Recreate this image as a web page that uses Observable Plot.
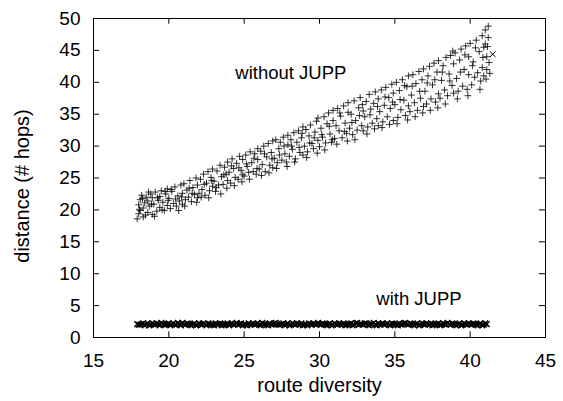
<!DOCTYPE html>
<html>
<head>
<meta charset="utf-8">
<script src="https://cdn.jsdelivr.net/npm/d3@7"></script>
<script src="https://cdn.jsdelivr.net/npm/@observablehq/plot@0.6"></script>
<style>
  html, body { margin: 0; padding: 0; background: #fff; }
</style>
</head>
<body>
<div id="chart"></div>
<script>
// without JUPP (route diversity, distance)
const withoutJUPP = [
[17.9,18.6],[18.0,19.4],[18.0,20.8],[18.1,21.6],[18.1,19.9],[18.2,22.3],[18.3,20.3],[18.3,18.9],[18.4,21.1],[18.5,22.0],[18.6,19.6],[18.6,21.4],[18.7,20.6],[18.8,22.5],[18.9,19.3],[18.9,21.9],
[19.0,20.9],[19.1,22.8],[19.2,19.8],[19.3,21.5],[19.4,22.1],[19.4,20.4],[19.5,23.0],[19.6,21.2],[19.7,19.9],[19.8,22.5],[19.9,20.7],[19.9,23.3],
[20.0,21.8],[20.1,20.2],[20.2,22.9],[20.3,21.0],[20.4,23.6],[20.5,20.6],[20.6,22.2],[20.7,21.4],[20.8,23.9],[20.9,20.9],[20.9,22.6],
[21.0,24.1],[21.1,21.6],[21.2,23.1],[21.3,22.0],[21.4,24.6],[21.5,21.3],[21.6,23.5],[21.7,22.4],[21.8,25.0],[21.9,21.9],[21.9,23.9],
[22.0,22.6],[22.1,24.8],[22.2,23.2],[22.3,25.6],[22.4,22.3],[22.5,24.2],[22.6,26.0],[22.7,23.0],[22.8,25.1],[22.9,23.7],[22.9,26.4],
[23.0,24.5],[23.1,22.9],[23.2,26.1],[23.3,23.9],[23.4,27.0],[23.5,25.2],[23.6,24.0],[23.7,26.7],[23.8,25.6],[23.9,24.6],[23.9,27.5],
[24.0,25.9],[24.1,24.2],[24.2,28.0],[24.3,26.5],[24.4,25.1],[24.5,27.3],[24.6,24.8],[24.7,28.4],[24.8,26.2],[24.9,25.5],[24.9,27.9],
[25.0,25.3],[25.1,28.6],[25.2,26.8],[25.3,25.9],[25.4,29.1],[25.5,27.4],[25.6,26.0],[25.7,28.8],[25.8,25.6],[25.9,27.9],[25.9,29.6],
[26.0,26.4],[26.1,29.2],[26.2,27.1],[26.3,30.0],[26.4,26.0],[26.5,28.3],[26.6,30.4],[26.7,27.0],[26.8,29.0],[26.9,26.6],[26.9,30.8],
[27.0,28.1],[27.1,31.0],[27.2,27.4],[27.3,29.6],[27.4,30.6],[27.5,27.8],[27.6,31.4],[27.7,28.8],[27.8,27.5],[27.9,30.2],[27.9,31.7],
[28.0,28.4],[28.1,31.0],[28.2,29.5],[28.3,32.1],[28.4,28.0],[28.5,30.6],[28.6,32.4],[28.7,29.0],[28.8,31.3],[28.9,28.6],[28.9,33.0],
[29.0,30.0],[29.1,32.6],[29.2,29.1],[29.3,31.6],[29.4,33.3],[29.5,30.4],[29.6,29.6],[29.7,32.2],[29.8,33.9],[29.9,30.9],[29.9,34.4],
[30.0,29.9],[30.1,32.8],[30.2,31.4],[30.3,34.6],[30.4,30.5],[30.5,33.5],[30.6,35.2],[30.7,31.9],[30.8,30.6],[30.9,34.0],[30.9,35.6],
[31.0,31.2],[31.1,33.2],[31.2,35.9],[31.3,32.4],[31.4,34.7],[31.5,31.3],[31.6,36.3],[31.7,33.6],[31.8,32.0],[31.9,35.3],[31.9,36.8],
[32.0,32.8],[32.1,35.0],[32.2,31.8],[32.3,37.1],[32.4,34.0],[32.5,32.5],[32.6,36.0],[32.7,37.6],[32.8,33.2],[32.9,35.5],[32.9,32.4],
[33.0,34.6],[33.1,37.0],[33.2,33.0],[33.3,38.1],[33.4,35.8],[33.5,33.6],[33.6,36.7],[33.7,38.5],[33.8,34.3],[33.9,33.2],[33.9,37.4],
[34.0,35.4],[34.1,38.8],[34.2,33.8],[34.3,36.4],[34.4,39.2],[34.5,34.6],[34.6,37.6],[34.7,35.9],[34.8,39.7],[34.9,34.0],[34.9,38.3],
[35.0,36.5],[35.1,40.0],[35.2,34.5],[35.3,38.7],[35.4,35.7],[35.5,40.4],[35.6,37.2],[35.7,34.8],[35.8,39.3],[35.9,36.3],[35.9,41.0],
[36.0,35.4],[36.1,38.0],[36.2,41.2],[36.3,36.8],[36.4,39.8],[36.5,35.6],[36.6,41.7],[36.7,37.5],[36.8,40.4],[36.9,36.2],[36.9,42.1],
[37.0,38.6],[37.1,36.6],[37.2,41.0],[37.3,42.5],[37.4,37.4],[37.5,39.6],[37.6,43.0],[37.7,36.9],[37.8,41.6],[37.9,38.2],[37.9,43.4],
[38.0,37.5],[38.1,40.3],[38.2,42.6],[38.3,38.8],[38.4,43.9],[38.5,37.9],[38.6,41.3],[38.7,44.2],[38.8,39.5],[38.9,38.3],[38.9,42.9],
[39.0,44.6],[39.1,40.6],[39.2,38.6],[39.3,43.5],[39.4,45.2],[39.5,39.4],[39.6,42.0],[39.7,45.7],[39.8,38.9],[39.9,44.0],[39.9,41.2],
[40.0,46.1],[40.1,39.6],[40.2,43.2],[40.3,40.8],[40.4,46.6],[40.5,41.5],[40.6,44.8],[40.7,40.2],[40.8,47.3],[40.8,42.3],[40.9,45.5],[40.9,41.0],
[41.0,48.2],[41.0,46.0],[41.1,42.0],[41.1,44.0],[41.2,48.8],[41.2,47.0],[41.3,41.4],
[18.05,20.1],[18.25,21.8],[18.45,19.2],[18.65,22.8],[18.85,20.9],[19.05,19.0],[19.25,21.9],[19.55,20.0],[19.75,22.9],[19.95,21.5],
[20.15,23.2],[20.45,21.7],[20.65,19.9],[20.85,22.0],[21.05,20.6],[21.35,23.4],[21.55,22.6],[21.85,21.2],[22.15,22.0],[22.35,24.0],
[22.65,21.9],[22.85,24.6],[23.15,23.5],[23.45,22.5],[23.65,25.5],[23.85,23.4],[24.15,26.9],[24.35,23.8],[24.65,26.6],[24.85,24.4],
[25.15,27.2],[25.35,24.8],[25.65,28.1],[25.85,26.5],[26.15,25.4],[26.35,28.8],[26.65,25.8],[26.85,28.0],[27.15,26.5],[27.35,28.6],
[27.65,30.0],[27.85,26.8],[28.15,30.0],[28.35,27.5],[28.65,29.8],[28.85,32.0],[29.15,28.2],[29.35,30.5],[29.65,31.3],[29.85,28.9],
[30.15,31.8],[30.35,29.4],[30.65,33.1],[30.85,31.0],[31.15,30.3],[31.35,35.2],[31.65,32.3],[31.85,30.8],[32.15,33.7],[32.35,31.0],
[32.65,34.8],[32.85,36.5],[33.15,31.9],[33.35,34.9],[33.65,32.7],[33.85,36.2],[34.15,32.9],[34.35,37.7],[34.65,33.4],[34.85,36.9],
[35.15,33.5],[35.35,37.3],[35.65,39.5],[35.85,34.1],[36.15,39.4],[36.35,34.6],[36.65,38.6],[36.85,35.2],[37.15,39.9],[37.35,35.6],
[37.65,40.4],[37.85,36.0],[38.15,41.6],[38.35,36.6],[38.65,40.2],[38.85,44.9],[39.15,37.4],[39.35,41.6],[39.65,44.3],[39.85,37.9],
[40.15,42.6],[40.35,45.4],[40.65,38.9],[40.85,43.9],[41.05,40.5],[41.15,45.6],[41.25,43.1]
];

// with JUPP (route diversity, distance)
const withJUPP = [
[17.9,2.1],[18.1,2.0],[18.3,2.2],[18.5,2.1],[18.7,1.9],[18.9,2.2],[19.1,2.0],[19.3,2.1],[19.5,2.3],[19.7,2.0],[19.9,2.1],[20.1,1.9],[20.3,2.2],[20.5,2.0],[20.7,2.1],[20.9,2.3],[21.1,2.0],[21.3,2.1],[21.5,1.9],[21.7,2.2],[21.9,2.0],[22.1,2.1],[22.3,2.2],[22.5,1.9],[22.7,2.1],[22.9,2.0],[23.1,2.2],[23.3,2.1],[23.5,1.9],[23.7,2.0],[23.9,2.2],[24.1,2.1],[24.3,2.0],[24.5,2.3],[24.7,2.1],[24.9,1.9],[25.1,2.0],[25.3,2.2],[25.5,2.1],[25.7,2.0],[25.9,2.2],[26.1,1.9],[26.3,2.1],[26.5,2.0],[26.7,2.2],[26.9,2.1],[27.1,2.3],[27.3,2.0],[27.5,2.1],[27.7,1.9],[27.9,2.2],[28.1,2.0],[28.3,2.1],[28.5,2.2],[28.7,2.0],[28.9,1.9],[29.1,2.1],[29.3,2.2],[29.5,2.0],[29.7,2.1],[29.9,2.3],[30.1,2.0],[30.3,2.1],[30.5,1.9],[30.7,2.2],[30.9,2.0],[31.1,2.1],[31.3,2.2],[31.5,2.0],[31.7,1.9],[31.9,2.1],[32.1,2.2],[32.3,2.0],[32.5,2.3],[32.7,2.1],[32.9,2.0],[33.1,2.2],[33.3,1.9],[33.5,2.1],[33.7,2.0],[33.9,2.2],[34.1,2.1],[34.3,2.0],[34.5,2.2],[34.7,1.9],[34.9,2.1],[35.1,2.0],[35.3,2.2],[35.5,2.1],[35.7,2.3],[35.9,2.0],[36.1,2.1],[36.3,1.9],[36.5,2.2],[36.7,2.0],[36.9,2.1],[37.1,2.2],[37.3,2.0],[37.5,1.9],[37.7,2.1],[37.9,2.2],[38.1,2.0],[38.3,2.1],[38.5,2.3],[38.7,2.0],[38.9,2.1],[39.1,1.9],[39.3,2.2],[39.5,2.0],[39.7,2.1],[39.9,2.2],[40.1,2.0],[40.3,2.1],[40.5,1.9],[40.7,2.2],[40.9,2.0],[41.1,2.1],
[18.0,2.0],[18.2,2.1],[18.4,1.9],[18.6,2.2],[18.8,2.0],[19.0,2.1],[19.2,2.2],[19.4,1.9],[19.6,2.1],[19.8,2.0],[20.0,2.2],[20.2,2.1],[20.4,2.0],[20.6,2.3],[20.8,1.9],[21.0,2.1],[21.2,2.2],[21.4,2.0],[21.6,2.1],[21.8,1.9],[22.0,2.2],[22.2,2.0],[22.4,2.1],[22.6,2.2],[22.8,2.0],[23.0,1.9],[23.2,2.1],[23.4,2.2],[23.6,2.0],[23.8,2.1],[24.0,1.9],[24.2,2.2],[24.4,2.1],[24.6,2.0],[24.8,2.2],[25.0,2.1],[25.2,1.9],[25.4,2.0],[25.6,2.2],[25.8,2.1],[26.0,2.0],[26.2,2.3],[26.4,2.1],[26.6,1.9],[26.8,2.0],[27.0,2.2],[27.2,2.1],[27.4,2.0],[27.6,2.2],[27.8,2.1],[28.0,1.9],[28.2,2.2],[28.4,2.0],[28.6,2.1],[28.8,2.2],[29.0,2.0],[29.2,1.9],[29.4,2.1],[29.6,2.2],[29.8,2.0],[30.0,2.1],[30.2,2.2],[30.4,2.0],[30.6,2.1],[30.8,1.9],[31.0,2.2],[31.2,2.0],[31.4,2.1],[31.6,2.2],[31.8,2.0],[32.0,2.1],[32.2,1.9],[32.4,2.2],[32.6,2.0],[32.8,2.1],[33.0,2.2],[33.2,2.0],[33.4,2.1],[33.6,2.3],[33.8,1.9],[34.0,2.0],[34.2,2.2],[34.4,2.1],[34.6,2.0],[34.8,2.2],[35.0,2.1],[35.2,1.9],[35.4,2.0],[35.6,2.2],[35.8,2.1],[36.0,2.2],[36.2,2.0],[36.4,2.1],[36.6,1.9],[36.8,2.2],[37.0,2.0],[37.2,2.1],[37.4,2.2],[37.6,2.0],[37.8,2.1],[38.0,1.9],[38.2,2.2],[38.4,2.0],[38.6,2.1],[38.8,2.2],[39.0,2.0],[39.2,2.1],[39.4,1.9],[39.6,2.2],[39.8,2.0],[40.0,2.1],[40.2,2.2],[40.4,2.0],[40.6,2.1],[40.8,1.9],[41.0,2.2]
];

// lone "x" point
const outlier = [[41.5, 44.4]];

const xTicks = [15, 20, 25, 30, 35, 40, 45];
const yTicks = [0, 5, 10, 15, 20, 25, 30, 35, 40, 45, 50];

const labels = [
  {x: 28.1, y: 41.5, text: "without JUPP"},
  {x: 36.6, y: 6.1, text: "with JUPP"}
];

const plusSymbol = {
  draw(ctx, size) {
    const r = Math.sqrt(size / Math.PI);
    ctx.moveTo(-r, 0); ctx.lineTo(r, 0);
    ctx.moveTo(0, -r); ctx.lineTo(0, r);
  }
};
const timesSymbol = {
  draw(ctx, size) {
    const r = Math.sqrt(size / Math.PI) * 0.75;
    ctx.moveTo(-r, -r); ctx.lineTo(r, r);
    ctx.moveTo(-r, r); ctx.lineTo(r, -r);
  }
};

const innerTicks = yTicks.filter(d => d > 0 && d < 50);
const innerXTicks = xTicks.filter(d => d > 15 && d < 45);

const chart = Plot.plot({
  width: 563,
  height: 401,
  marginTop: 18,
  marginRight: 18,
  marginBottom: 64,
  marginLeft: 93,
  style: {fontFamily: "'Liberation Sans', Arial, Helvetica, sans-serif", fontSize: "19px", color: "#000", background: "#fff"},
  x: {domain: [15, 45]},
  y: {domain: [0, 50]},
  marks: [
    Plot.axisX(xTicks, {tickSize: 0, tickPadding: 16, fontSize: 19, label: null}),
    Plot.axisY(yTicks, {tickSize: 0, tickPadding: 13, fontSize: 19, label: null}),
    Plot.text(["route diversity"], {frameAnchor: "bottom", textAnchor: "middle", dy: 48, fontSize: 20, fill: "#000", lineAnchor: "middle"}),
    Plot.text(["distance (# hops)"], {frameAnchor: "left", textAnchor: "middle", dx: -71, dy: 8, rotate: -90, fontSize: 20, fill: "#000", lineAnchor: "middle"}),
    Plot.ruleX(innerXTicks, {x: d => d, y1: 0, y2: 0.9, stroke: "#000"}),
    Plot.ruleX(innerXTicks, {x: d => d, y1: 50, y2: 49.1, stroke: "#000"}),
    Plot.ruleY(innerTicks, {y: d => d, x1: 15, x2: 15.4, stroke: "#000"}),
    Plot.ruleY(innerTicks, {y: d => d, x1: 45, x2: 44.6, stroke: "#000"}),
    Plot.dot(withoutJUPP, {x: d => d[0], y: d => d[1], symbol: plusSymbol, r: 3.4, stroke: "#000", strokeWidth: 1, fill: "none", strokeOpacity: 0.8}),
    Plot.dot(withJUPP, {x: d => d[0], y: d => d[1], symbol: timesSymbol, r: 3.8, stroke: "#000", strokeWidth: 1.4, fill: "none"}),
    Plot.dot(outlier, {x: d => d[0], y: d => d[1], symbol: timesSymbol, r: 3.8, stroke: "#000", strokeWidth: 1, fill: "none"}),
    Plot.text(labels, {x: "x", y: "y", text: "text", fontSize: 18.5, fill: "#000"}),
    Plot.frame({stroke: "#000"})
  ]
});
document.getElementById("chart").appendChild(chart);
</script>
</body>
</html>
